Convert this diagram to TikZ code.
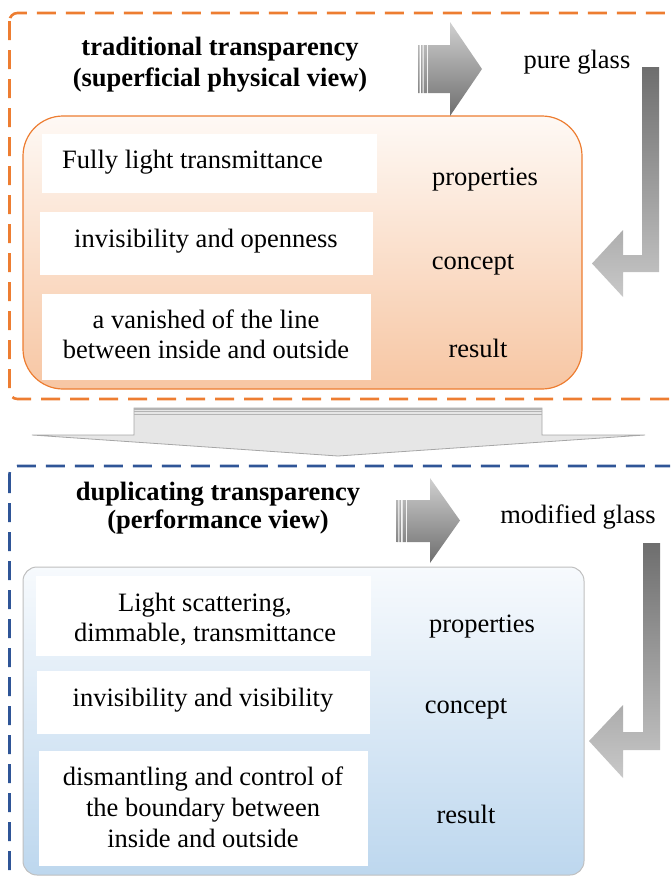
\documentclass[tikz,border=0pt]{standalone}
\usepackage{fontspec}
\setmainfont{Liberation Serif}
\definecolor{orangeC}{HTML}{ED7D31}
\definecolor{blueC}{HTML}{2F5597}
\definecolor{otop}{HTML}{FEF9F5}
\definecolor{obot}{HTML}{F7C6A3}
\definecolor{btop}{HTML}{F7FAFD}
\definecolor{bbot}{HTML}{BDD7EE}
\definecolor{agray}{HTML}{E6E6E6}
\definecolor{aedge}{HTML}{A6A6A6}
\definecolor{astripe}{HTML}{B4B4B4}
\definecolor{gLight}{HTML}{D0D0D0}
\definecolor{gDark}{HTML}{6E6E6E}
\definecolor{gBendTop}{HTML}{6E6E6E}
\definecolor{gBendBot}{HTML}{C8C8C8}
\definecolor{bedge}{HTML}{BFBFBF}
\newcommand\txtsz{\fontsize{26.5}{30}\selectfont}
\begin{document}
\begin{tikzpicture}[x=1pt,y=-1pt,
  txt/.style={font=\txtsz, inner sep=0pt, text=black},
  ttl/.style={inner sep=0pt, align=center, text=black},
  wbox/.style={fill=white, draw=none, inner sep=0pt},
  dashbox/.style={line width=2.6pt, dash pattern=on 19pt off 10pt, rounded corners=8pt},
  blockarrow/.style={top color=gLight, bottom color=gDark},
  bendarrow/.style={top color=gBendTop, bottom color=gBendBot},
  bigarrow/.style={draw=aedge, fill=agray, line width=0.8pt, line join=miter}
]
\useasboundingbox (0,0) rectangle (670,878);
\clip (0,0) rectangle (670,878);

% dashed frames
\draw[dashbox, orangeC] (9.5,13) rectangle (700,399);
\draw[dashbox, blueC] (9.5,466) rectangle (700,900);

% upper panel
\node[draw=orangeC, line width=1.2pt, rounded corners=40pt, top color=otop, bottom color=obot,
      minimum width=559pt, minimum height=273pt, inner sep=0pt] (obox) at (302.5,252.5) {};
\node[wbox, minimum width=335pt, minimum height=59pt] (b1) at (209.5,163.5) {};
\node[wbox, minimum width=333pt, minimum height=63pt] (b2) at (206.5,243.5) {};
\node[wbox, minimum width=329pt, minimum height=86pt] (b3) at (206.5,337) {};
\node[txt, anchor=base west] (t1) at (62,168) {Fully light transmittance};
\node[txt, anchor=base] (t2) at (206,247) {invisibility and openness};
\node[txt, align=center] (t3) at (206,334) {a vanished of the line\\between inside and outside};
\node[txt, anchor=base] (p1) at (485,185) {properties};
\node[txt, anchor=base] (k1) at (473,269) {concept};
\node[txt, anchor=base] (r1) at (478,357) {result};

\node[ttl, font=\fontsize{26.5}{31}\selectfont\bfseries] (title1) at (220,64.4)
  {traditional transparency\\(superficial physical view)};
\node[txt, anchor=base] (g1) at (577,68) {pure glass};

% upper right block arrow
\shade[blockarrow] (418,45) rectangle (419.7,93) (421,45) rectangle (422.5,93) (423.5,45) rectangle (427,93)
  (428,45) -- (450,45) -- (450,22) -- (482,69) -- (450,116) -- (450,93) -- (428,93) -- cycle;
% upper bent arrow
\shade[bendarrow] (642,67) -- (659,67) -- (659,272) -- (623,272) -- (623,297) -- (592,263.5)
  -- (623,230) -- (623,255) -- (642,255) -- cycle;

% big down arrow
\draw[bigarrow] (134,408) -- (542,408) -- (542,435) -- (645,435) -- (338,456) -- (32,435) -- (134,435) -- cycle;
\fill[astripe] (134,408) rectangle (542,409.5);
\fill[astripe] (134,411) rectangle (542,412.3);
\fill[astripe] (134,414) rectangle (542,415.3);

% lower panel
\node[draw=bedge, line width=1pt, rounded corners=14pt, top color=btop, bottom color=bbot,
      minimum width=561pt, minimum height=308pt, inner sep=0pt] (bbox) at (303.5,721) {};
\node[wbox, minimum width=335pt, minimum height=80pt] (c1) at (203.5,616) {};
\node[wbox, minimum width=333pt, minimum height=63pt] (c2) at (203.5,702.5) {};
\node[wbox, minimum width=329pt, minimum height=115pt] (c3) at (203.5,808.5) {};
\node[txt, align=center] (u1) at (205,619.5) {Light scattering,\\dimmable, transmittance};
\node[txt, anchor=base] (u2) at (203,706) {invisibility and visibility};
\node[txt, align=center, font=\fontsize{26.5}{31}\selectfont] (u3) at (203,807)
  {dismantling and control of\\the boundary between\\inside and outside};
\node[txt, anchor=base] (p2) at (482,632) {properties};
\node[txt, anchor=base] (k2) at (466,713) {concept};
\node[txt, anchor=base] (r2) at (466,823) {result};

\node[ttl, font=\fontsize{26.5}{28.5}\selectfont\bfseries] (title2) at (218,508)
  {duplicating transparency\\(performance view)};
\node[txt, anchor=base] (g2) at (578,523) {modified glass};

% lower right block arrow
\shade[blockarrow] (396.7,500) rectangle (398.3,542) (399.3,500) rectangle (401,542) (402.7,500) rectangle (406,542)
  (407,500) -- (430,500) -- (430,478) -- (460,520.5) -- (430,563) -- (430,542) -- (407,542) -- cycle;
% lower bent arrow
\shade[bendarrow] (643,543) -- (660,543) -- (660,750) -- (623,750) -- (623,778) -- (589,741)
  -- (623,705) -- (623,732) -- (643,732) -- cycle;
\end{tikzpicture}
\end{document}
